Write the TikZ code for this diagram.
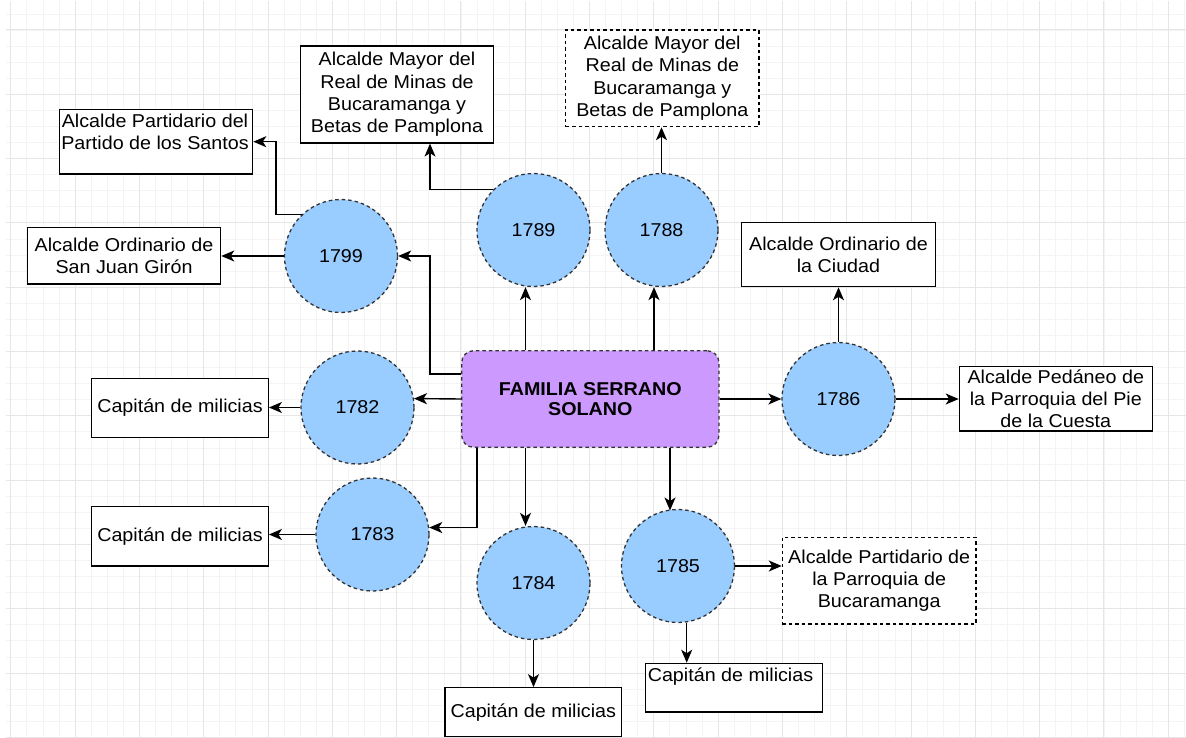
\documentclass[tikz,border=0pt]{standalone}
\usepackage{fontspec}
\setmainfont{Liberation Sans}[FakeStretch=1.06]
\usetikzlibrary{arrows.meta}
\definecolor{gridmajor}{HTML}{E6E6E6}
\definecolor{gridminor}{HTML}{F4F4F4}
\definecolor{yearfill}{HTML}{99CCFF}
\definecolor{famfill}{HTML}{CC99FF}
\definecolor{dashline}{HTML}{333333}
\begin{document}
\begin{tikzpicture}[x=1pt,y=-1pt,
  every node/.style={font=\fontsize{18.6}{22.3}\selectfont, text=black, align=center},
  year/.style={circle, draw=dashline, fill=yearfill, dash pattern=on 3.5pt off 3pt,
    line width=1.3pt, minimum size=113pt, inner sep=0pt},
  office/.style={draw=black, line width=1.2pt, fill=white, inner sep=0pt},
  officedash/.style={office, dash pattern=on 3.5pt off 3pt},
  arr/.style={line width=1.4pt, -{Stealth[length=13pt,width=11pt,inset=3.5pt]}},
  gminor/.style={draw=gridminor, line width=0.8pt},
  gmajor/.style={draw=gridmajor, line width=1pt},
]
% page and background grid
\fill[white] (0,0) rectangle (1186,738);
\useasboundingbox (0,0) rectangle (1186,738);
\begin{scope}
  \clip (6,2) rectangle (1186,738);
  \foreach \i in {0,...,73}
    \draw[gminor] ({10.8+16.075*\i},0) -- ({10.8+16.075*\i},738);
  \foreach \j in {-1,...,44}
    \draw[gminor] (0,{30+16.075*\j}) -- (1186,{30+16.075*\j});
  \foreach \i in {0,...,18}
    \draw[gmajor] ({10.8+64.3*\i},0) -- ({10.8+64.3*\i},738);
  \foreach \j in {0,...,11}
    \draw[gmajor] (0,{30+64.3*\j}) -- (1186,{30+64.3*\j});
\end{scope}

% central node
\node[draw=dashline, fill=famfill, dash pattern=on 3.5pt off 3pt, rounded corners=12pt,
  line width=1.3pt, minimum width=257.3pt, minimum height=96.6pt, inner sep=0pt,
  font=\fontsize{18.6}{20.7}\selectfont\bfseries] (familia) at (590.3,399)
  {FAMILIA SERRANO\\SOLANO};

% years
\node[year] (c1799) at (341,256) {1799};
\node[year] (c1789) at (533.5,230) {1789};
\node[year] (c1788) at (661.5,230) {1788};
\node[year] (c1786) at (838.5,399) {1786};
\node[year] (c1782) at (357.5,407.5) {1782};
\node[year] (c1783) at (372.5,534.5) {1783};
\node[year] (c1784) at (533.5,583) {1784};
\node[year] (c1785) at (678,566) {1785};

% offices
\node[office, minimum width=193.4pt, minimum height=64.7pt] (santos) at (156,141.7) {};
\node (santostxt) at (155,132) {Alcalde Partidario del\\Partido de los Santos};
\node[office, minimum width=193.4pt, minimum height=56.7pt] (giron) at (124,255.7)
  {Alcalde Ordinario de\\San Juan Girón};
\node[office, minimum width=192.6pt, minimum height=97pt] (mayor1) at (397,94.5)
  {Alcalde Mayor del\\Real de Minas de\\Bucaramanga y\\Betas de Pamplona};
\node[officedash, minimum width=193.3pt, minimum height=96.7pt] (mayor2) at (662.3,78.3)
  {Alcalde Mayor del\\Real de Minas de\\Bucaramanga y\\Betas de Pamplona};
\node[office, minimum width=193.6pt, minimum height=64pt] (ciudad) at (838.5,254.7)
  {Alcalde Ordinario de\\la Ciudad};
\node[office, minimum width=193pt, minimum height=64.3pt] (pedaneo) at (1055.8,398.8)
  {Alcalde Pedáneo de\\la Parroquia del Pie\\de la Cuesta};
\node[office, minimum width=176.6pt, minimum height=59pt] (cap82) at (180,407.8)
  {Capitán de milicias};
\node[office, minimum width=176.6pt, minimum height=59.3pt] (cap83) at (180,536.3)
  {Capitán de milicias};
\node[office, minimum width=176.7pt, minimum height=49pt] (cap84) at (533.3,712.2)
  {Capitán de milicias};
\node[office, minimum width=177pt, minimum height=48.7pt] (cap85) at (734.2,687.7) {};
\node (cap85txt) at (730.5,676.7) {Capitán de milicias};
\node[officedash, minimum width=193.7pt, minimum height=86.7pt] (bucara) at (879.2,580.7)
  {Alcalde Partidario de\\la Parroquia de\\Bucaramanga};

% connectors
\draw[arr] (familia.west |- 0,374) -| (430,0 |- c1799) -- (c1799.east);
\draw[arr] (c1799.133) -| (276,0 |- santos) -- (santos.east);
\draw[arr] (c1799.west) -- (c1799.west -| giron.east);
\draw[arr] (c1789.135) -| (430,0 |- mayor1.south);
\draw[arr] (525.5,0 |- familia.north) -- (525.5,0 |- c1789.south);
\draw[arr] (654,0 |- familia.north) -- (654,0 |- c1788.south);
\draw[arr] (c1788.north) -- (c1788.north |- mayor2.south);
\draw[arr] (familia.west) -- (c1782.9);
\draw[arr] (c1782.west) -- (c1782.west -| cap82.east);
\draw[arr] (477,0 |- familia.south) |- (c1783.7);
\draw[arr] (c1783.west) -- (c1783.west -| cap83.east);
\draw[arr] (525.5,0 |- familia.south) -- (525.5,0 |- c1784.north);
\draw[arr] (670,0 |- familia.south) -- (670,510.5);
\draw[arr] (c1785.east) -- (c1785.east -| bucara.west);
\draw[arr] (686.7,0 |- c1785.south) -- (686.7,0 |- cap85.north);
\draw[arr] (c1784.south) -- (c1784.south |- cap84.north);
\draw[arr] (familia.east) -- (c1786.west);
\draw[arr] (c1786.north) -- (c1786.north |- ciudad.south);
\draw[arr] (c1786.east) -- (c1786.east -| pedaneo.west);
\end{tikzpicture}
\end{document}
